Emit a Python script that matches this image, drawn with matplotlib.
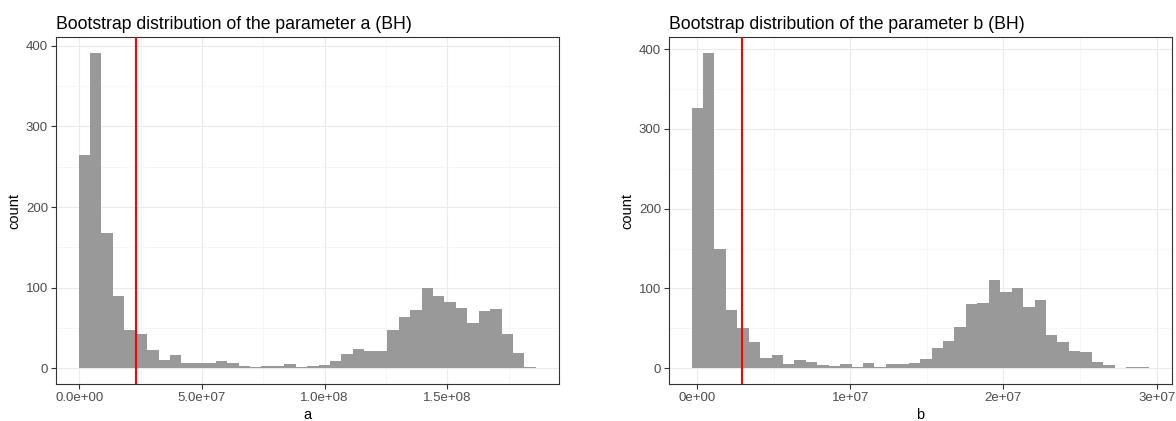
import numpy as np
import matplotlib
matplotlib.use("Agg")
import matplotlib.pyplot as plt

plt.rcParams['font.family'] = ['Liberation Sans', 'DejaVu Sans']

# bootstrap histogram counts (40 bins each)
counts_a = [264, 391, 168, 90, 48, 43, 23, 10, 17, 7,
            6, 6, 9, 6, 3, 2, 3, 3, 5, 2,
            3, 4, 9, 18, 24, 21, 22, 47, 63, 72,
            100, 89, 82, 75, 56, 71, 73, 43, 19, 1]
counts_b = [326, 395, 149, 73, 50, 33, 13, 17, 5, 10,
            8, 4, 3, 5, 2, 6, 1, 5, 5, 7,
            11, 25, 34, 52, 81, 82, 110, 96, 101, 77,
            86, 42, 33, 21, 20, 8, 4, 0, 1, 1]
a_start, a_width = -3.0e5, 4.66e6
b_start, b_width = -3.5e5, 7.46e5
a_est = 2.33e7
b_est = 2.97e6

a_ticks = [0, 5e7, 1e8, 1.5e8]
a_ticklabels = ['0.0e+00', '5.0e+07', '1.0e+08', '1.5e+08']
b_ticks = [0, 1e7, 2e7, 3e7]
b_ticklabels = ['0e+00', '1e+07', '2e+07', '3e+07']
y_ticks = [0, 100, 200, 300, 400]

W, H = 1176, 421
fig = plt.figure(figsize=(W / 100, H / 100), dpi=100)


def panel(left, counts, start, width, est, ticks, ticklabels, xlabel, title):
    ax = fig.add_axes([left / W, (H - 384) / H, 503 / W, (384 - 37.3) / H])
    edges = start + width * np.arange(len(counts) + 1)
    ax.bar(edges[:-1], counts, width=width, align='edge', color='#999999',
           linewidth=0, zorder=2)
    ax.axvline(est, color='red', linewidth=1.5, zorder=3)

    span = edges[-1] - edges[0]
    xlo, xhi = edges[0] - 0.05 * span, edges[-1] + 0.05 * span
    top = max(counts)
    ylo, yhi = -0.05 * top, top * 1.05

    ax.set_xticks(ticks)
    ax.set_xticklabels(ticklabels)
    step = ticks[1] - ticks[0]
    minor_x = [t + step / 2 for t in ticks] + [ticks[0] - step / 2]
    ax.set_xticks([t for t in minor_x if xlo < t < xhi], minor=True)
    ax.set_yticks(y_ticks)
    ax.set_yticks([y + 50 for y in y_ticks if y + 50 < yhi], minor=True)
    ax.set_xlim(xlo, xhi)
    ax.set_ylim(ylo, yhi)

    ax.grid(which='major', color='#EBEBEB', linewidth=0.8, zorder=0)
    ax.grid(which='minor', color='#F3F3F3', linewidth=0.5, zorder=0)
    ax.set_axisbelow(True)
    ax.tick_params(which='major', length=3.5, width=0.8, color='#333333',
                   labelcolor='#4D4D4D', labelsize=9.5, pad=2)
    ax.tick_params(which='minor', length=0)
    for s in ax.spines.values():
        s.set_color('#333333')
        s.set_linewidth(0.8)
    ax.set_xlabel(xlabel, fontsize=10.5, labelpad=3)
    ax.set_ylabel('count', fontsize=10.5, labelpad=3)
    ax.set_title(title, fontsize=12.7, loc='left', pad=6)
    return ax


panel(55.7, counts_a, a_start, a_width, a_est, a_ticks, a_ticklabels, 'a',
      'Bootstrap distribution of the parameter a (BH)')
panel(668.7, counts_b, b_start, b_width, b_est, b_ticks, b_ticklabels, 'b',
      'Bootstrap distribution of the parameter b (BH)')

fig.savefig('out.png', dpi=100)
